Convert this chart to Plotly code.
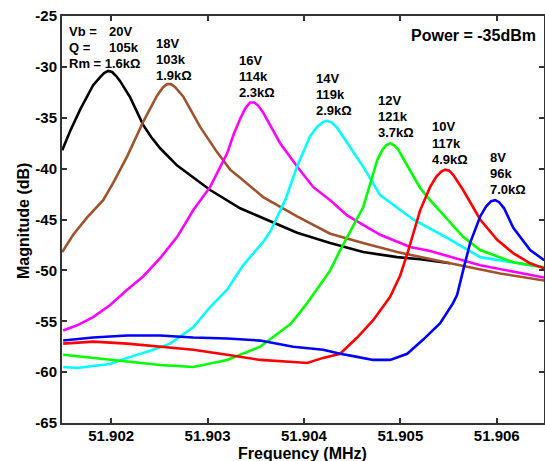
import plotly.graph_objects as go

# ---- data (frequency in MHz, magnitude in dB) ----
f_20V = [51.901492, 51.901575, 51.901678, 51.901813, 51.901886, 51.901927, 51.901969, 51.902010,
         51.902052, 51.902093, 51.902197, 51.902332, 51.902415, 51.902508, 51.902685, 51.902851,
         51.903027, 51.903338, 51.903577, 51.903929, 51.904272, 51.904614, 51.904967, 51.905205,
         51.905517]
m_20V = [-38.2, -36.3, -34.2, -31.8, -31.0, -30.6, -30.4, -30.5,
         -30.9, -31.4, -33.0, -35.7, -36.9, -38.0, -39.7, -40.9,
         -42.1, -43.9, -44.9, -46.3, -47.3, -48.2, -48.7, -48.9,
         -49.3]

f_18V = [51.901492, 51.901606, 51.901751, 51.901917, 51.902021, 51.902166, 51.902332, 51.902477,
         51.902539, 51.902581, 51.902622, 51.902664, 51.902747, 51.902923, 51.903100, 51.903234,
         51.903338, 51.903577, 51.903929, 51.904272, 51.904614, 51.904967, 51.905517, 51.906035,
         51.906492]
m_18V = [-48.2, -46.5, -44.8, -43.1, -41.4, -38.8, -35.4, -32.8,
         -32.0, -31.7, -31.7, -32.0, -32.9, -35.9, -38.4, -40.1,
         -40.9, -42.8, -44.7, -46.4, -47.3, -48.2, -49.3, -50.3,
         -51.0]

f_16V = [51.901502, 51.901647, 51.901813, 51.901990, 51.902166, 51.902332, 51.902508, 51.902685,
         51.902851, 51.903027, 51.903203, 51.903272, 51.903338, 51.903396, 51.903442, 51.903484,
         51.903525, 51.903577, 51.903753, 51.903929, 51.904095, 51.904272, 51.904448, 51.904614,
         51.904790, 51.905102, 51.905309, 51.905828, 51.906492]
m_16V = [-55.9, -55.4, -54.6, -53.4, -51.9, -50.6, -48.8, -46.7,
         -44.1, -41.8, -38.5, -36.6, -35.1, -34.0, -33.5, -33.5,
         -33.8, -34.5, -37.5, -39.8, -41.8, -43.1, -44.6, -45.5,
         -46.5, -47.7, -48.1, -49.5, -50.7]

f_14V = [51.901502, 51.901647, 51.901813, 51.901990, 51.902166, 51.902405, 51.902612, 51.902851,
         51.903027, 51.903203, 51.903369, 51.903577, 51.903650, 51.903805, 51.903929, 51.904064,
         51.904137, 51.904199, 51.904241, 51.904293, 51.904345, 51.904407, 51.904614, 51.904790,
         51.905133, 51.905485, 51.905828, 51.906346, 51.906492]
m_14V = [-59.5, -59.6, -59.4, -59.2, -58.6, -57.9, -57.2, -55.6,
         -53.6, -51.9, -49.5, -47.2, -46.2, -43.1, -39.8, -36.8,
         -35.9, -35.4, -35.3, -35.5, -36.0, -36.9, -39.8, -42.6,
         -45.0, -46.8, -48.7, -49.5, -49.7]

f_12V = [51.901502, 51.901813, 51.902166, 51.902508, 51.902851, 51.903203, 51.903546, 51.903722,
         51.903857, 51.903961, 51.904033, 51.904199, 51.904272, 51.904376, 51.904448, 51.904614,
         51.904759, 51.904811, 51.904853, 51.904894, 51.904936, 51.904977, 51.905029, 51.905133,
         51.905205, 51.905309, 51.905485, 51.905651, 51.905828, 51.906170, 51.906492]
m_12V = [-58.3, -58.6, -59.0, -59.3, -59.5, -58.8, -57.5, -56.3,
         -55.3, -54.1, -53.2, -51.0, -50.0, -48.0, -46.7, -43.8,
         -39.2, -38.2, -37.7, -37.5, -37.7, -38.1, -39.0, -40.7,
         -41.9, -43.1, -45.0, -46.7, -48.0, -49.2, -49.7]

f_10V = [51.901502, 51.901813, 51.902166, 51.902508, 51.902851, 51.903203, 51.903546, 51.903888,
         51.904033, 51.904199, 51.904376, 51.904552, 51.904718, 51.904894, 51.904998, 51.905071,
         51.905133, 51.905205, 51.905309, 51.905372, 51.905424, 51.905465, 51.905506, 51.905548,
         51.905651, 51.905828, 51.906004, 51.906170, 51.906346, 51.906492]
m_10V = [-57.2, -57.0, -57.2, -57.5, -57.8, -58.3, -58.8, -59.0,
         -59.1, -58.6, -58.2, -56.6, -54.9, -52.6, -50.5, -48.4,
         -46.4, -44.1, -41.8, -40.8, -40.3, -40.1, -40.2, -40.6,
         -42.1, -45.0, -47.0, -48.3, -49.3, -49.8]

f_8V = [51.901502, 51.901813, 51.902166, 51.902508, 51.902851, 51.903203, 51.903546, 51.903888,
        51.904199, 51.904376, 51.904552, 51.904718, 51.904894, 51.905071, 51.905237, 51.905413,
        51.905548, 51.905589, 51.905651, 51.905724, 51.905828, 51.905890, 51.905942, 51.905983,
        51.906025, 51.906076, 51.906170, 51.906346, 51.906492]
m_8V = [-56.9, -56.6, -56.4, -56.4, -56.6, -56.7, -56.9, -57.5,
        -57.8, -58.2, -58.5, -58.8, -58.8, -58.2, -56.8, -55.2,
        -53.2, -52.4, -50.0, -47.3, -44.7, -43.7, -43.2, -43.1,
        -43.3, -43.9, -45.8, -48.0, -49.0]

series = [
    ("20V", f_20V, m_20V, "#000000"),
    ("18V", f_18V, m_18V, "#A0522D"),
    ("16V", f_16V, m_16V, "#FF00FF"),
    ("14V", f_14V, m_14V, "#00FFFF"),
    ("12V", f_12V, m_12V, "#00FF00"),
    ("10V", f_10V, m_10V, "#FF0000"),
    ("8V", f_8V, m_8V, "#0000FF"),
]

x_ticks = [51.902, 51.903, 51.904, 51.905, 51.906]
y_ticks = [-65, -60, -55, -50, -45, -40, -35, -30, -25]

# label blocks: (lines, left px, first-line centre px)
labels = [
    (["Vb =", "Q =", "Rm = 1.6k\u03a9"], 67, 31),
    (["20V", "105k"], 107, 31),
    (["18V", "103k", "1.9k\u03a9"], 154, 43),
    (["16V", "114k", "2.3k\u03a9"], 237, 60),
    (["14V", "119k", "2.9k\u03a9"], 314, 78),
    (["12V", "121k", "3.7k\u03a9"], 376, 100),
    (["10V", "117k", "4.9k\u03a9"], 430, 127),
    (["8V", "96k", "7.0k\u03a9"], 488, 157),
]

W, H = 545, 461
L, R, T, B = 62, 1, 16, 38
PW, PH = W - L - R, H - T - B

def px(x):
    return (x - L) / PW

def py(y):
    return (H - B - y) / PH

fig = go.Figure()
for name, f, m, c in series:
    fig.add_trace(go.Scatter(x=f, y=m, mode="lines", name=name,
                             line=dict(color=c, width=2.6), showlegend=False))

FONT = "Arial, Liberation Sans, sans-serif"
ann = []
for lines, x0, y0 in labels:
    for i, t in enumerate(lines):
        ann.append(dict(text="<b>%s</b>" % t, x=px(x0), y=py(y0 + i * 16.3), xref="paper", yref="paper",
                        xanchor="left", yanchor="middle", showarrow=False,
                        font=dict(family=FONT, size=13, color="#000")))
ann.append(dict(text="<b>Power = -35dBm</b>", x=px(538), y=py(36), xref="paper", yref="paper",
                xanchor="right", yanchor="middle", showarrow=False,
                font=dict(family=FONT, size=16, color="#000")))
# axis titles
ann.append(dict(text="<b>Frequency (MHz)</b>", x=px(302), y=py(453), xref="paper", yref="paper",
                xanchor="center", yanchor="middle", showarrow=False,
                font=dict(family=FONT, size=16, color="#000")))
ann.append(dict(text="<b>Magnitude (dB)</b>", x=px(23), y=py(221), xref="paper", yref="paper",
                xanchor="center", yanchor="middle", showarrow=False, textangle=-90,
                font=dict(family=FONT, size=16, color="#000")))

fig.update_layout(
    width=W, height=H,
    margin=dict(l=L, r=R, t=T, b=B, autoexpand=False),
    paper_bgcolor="white", plot_bgcolor="white",
    annotations=ann,
    font=dict(family=FONT, color="#000"),
)
axis_common = dict(showline=True, linecolor="#333", linewidth=2, mirror="allticks",
                   ticks="inside", ticklen=5, tickwidth=1.5, tickcolor="#333",
                   showgrid=False, zeroline=False, automargin=False,
                   tickfont=dict(family=FONT, size=15, color="#000"))
fig.update_xaxes(range=[51.90149, 51.90649], tickvals=x_ticks,
                 ticktext=["<b>%.3f</b>" % v for v in x_ticks],
                 ticklabelstandoff=-2,
                 **axis_common)
fig.update_yaxes(range=[-65, -25], tickvals=y_ticks,
                 ticktext=["<b>%d</b>" % v for v in y_ticks],
                 **axis_common)

fig.write_html("out.html", config={"displayModeBar": False},
               post_script="document.body.style.margin='0';document.body.style.padding='0';")
